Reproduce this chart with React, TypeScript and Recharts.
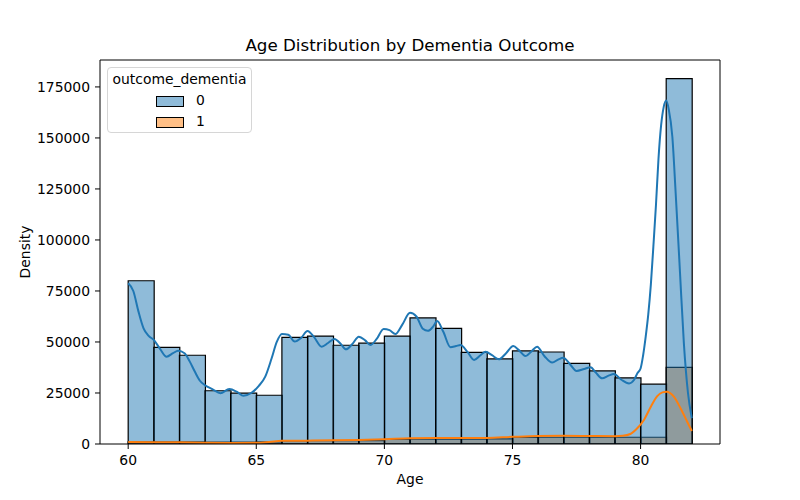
import {
  ComposedChart, Bar, Line, XAxis, YAxis, ReferenceLine,
} from 'recharts'

// histogram bins, one year wide (left edges)
const binStarts = [60, 61, 62, 63, 64, 65, 66, 67, 68, 69, 70, 71, 72, 73, 74, 75, 76, 77, 78, 79, 80, 81]
const countsNoDementia = [
  80000, 47400, 43500, 26100, 24900, 23900, 52300, 52900, 48400, 49400, 52900,
  61800, 56700, 44900, 41700, 45600, 45100, 39500, 35800, 32400, 29300, 179100,
]
const countsDementia = [
  1100, 1000, 1000, 900, 900, 1000, 1500, 1600, 1600, 1700, 2300,
  2400, 2400, 2400, 2500, 3200, 3300, 3300, 3300, 3300, 3300, 37600,
]

// kde curves
const kdeAges0 = [
  60.0, 60.2, 60.4, 60.6, 60.8, 61.0, 61.25, 61.5, 61.75, 61.95, 62.2, 62.4, 62.6, 62.8,
  63.0, 63.3, 63.6, 63.95, 64.25, 64.5, 64.8, 65.1, 65.35, 65.6, 65.8, 66.0, 66.25, 66.5,
  66.75, 67.0, 67.25, 67.55, 67.8, 68.05, 68.3, 68.5, 68.75, 69.0, 69.25, 69.45, 69.7,
  69.97, 70.2, 70.43, 70.7, 71.0, 71.25, 71.5, 71.7, 71.9, 72.06, 72.3, 72.58, 72.8, 72.97,
  73.25, 73.5, 73.75, 73.95, 74.2, 74.47, 74.75, 75.03, 75.25, 75.5, 75.75, 75.96, 76.25,
  76.55, 76.8, 76.98, 77.25, 77.5, 77.8, 78.05, 78.25, 78.5, 78.75, 78.96, 79.25, 79.55,
  79.75, 79.87, 80.0, 80.1, 80.2, 80.3, 80.4, 80.5, 80.6, 80.7, 80.8, 80.9, 81.0, 81.1,
  81.24, 81.37, 81.54, 81.69, 81.85, 82.0,
]
const kdeNoDementia = [
  78800, 75000, 65000, 56700, 53000, 51000, 46500, 42800, 44500, 45700, 44500, 40500, 35500, 31000,
  28800, 26800, 24900, 26900, 25500, 23600, 25000, 28500, 33000, 42000, 50000, 53900, 53500, 50200,
  52000, 55400, 52500, 47700, 49500, 51500, 49000, 46400, 49000, 52600, 50800, 48500, 51500,
  56400, 55800, 53900, 58500, 64300, 62500, 56500, 55500, 57500, 60300, 55000, 47400, 48000, 48500,
  45000, 41200, 43500, 45200, 43500, 41500, 44500, 48000, 46000, 43100, 45500, 47700, 43000,
  39900, 41500, 42300, 39000, 35800, 36800, 37600, 35000, 32200, 33500, 34300, 31500, 29700,
  31500, 34600, 37000, 43500, 52600, 63500, 78000, 97000, 117000, 140000, 156000, 165000, 168300, 164000,
  150600, 122900, 83700, 49300, 25000, 12600,
]
const kdeAges1 = [
  60.0, 61.0, 62.0, 63.0, 64.0, 65.0, 65.5, 66.0, 67.0, 68.0, 69.0, 70.0, 71.0, 72.0, 73.0,
  74.0, 75.0, 76.0, 77.0, 78.0, 79.0, 79.3, 79.6, 79.87, 80.13, 80.4, 80.65, 80.85, 81.02,
  81.15, 81.3, 81.56, 81.82, 82.0,
]
const kdeDementia = [
  1000, 900, 800, 650, 550, 600, 1000, 1550, 1650, 1800, 2000, 2300, 2800, 2900, 2900,
  3000, 3500, 3900, 4000, 3900, 3800, 4000, 4900, 7700, 11800, 18300, 23500, 25300, 25600,
  25000, 23200, 17500, 10900, 6400,
]

const xTicks = [60, 65, 70, 75, 80]
const yTicks = [0, 25000, 50000, 75000, 100000, 125000, 150000, 175000]
const X_MIN = 58.9
const X_MAX = 83.1
const Y_MAX = 188200

const BLUE = '#1f77b4'
const ORANGE = '#ff7f0e'
const FONT = '"DejaVu Sans", sans-serif'

const histRows = binStarts.map((b, i) => ({
  mid: b + 0.5,
  healthy: countsNoDementia[i],
  dementia: countsDementia[i],
}))
const kdeRows0 = kdeAges0.map((a, i) => ({ age: a, v: kdeNoDementia[i] }))
const kdeRows1 = kdeAges1.map((a, i) => ({ age: a, v: kdeDementia[i] }))

const tickStyle = { fontSize: 13.9, fill: '#000', fontFamily: FONT }

function LegendBox() {
  const entry = (color: string, label: string, top: number) => (
    <div style={{ position: 'absolute', left: 0, top, width: '100%', height: 12 }}>
      <div style={{
        position: 'absolute', left: 48, top: 0, width: 26, height: 9,
        background: color, border: '1px solid #000',
      }} />
      <span style={{ position: 'absolute', left: 88, top: -4, fontSize: 13.9 }}>{label}</span>
    </div>
  )
  return (
    <div style={{
      position: 'absolute', left: 107, top: 67, width: 145, height: 66,
      border: '1px solid #d6d6d6', borderRadius: 4, background: 'rgba(255,255,255,0.8)',
      fontFamily: FONT, color: '#000', boxSizing: 'border-box',
    }}>
      <div style={{ position: 'absolute', left: 0, top: 3, width: '100%', textAlign: 'center', fontSize: 13.9 }}>
        outcome_dementia
      </div>
      {entry('rgba(31,119,180,0.5)', '0', 28)}
      {entry('rgba(255,127,14,0.5)', '1', 49)}
    </div>
  )
}

export default function App() {
  return (
    <div style={{ position: 'absolute', left: 0, top: 0, width: 800, height: 500, background: '#fff', fontFamily: FONT }}>
      <ComposedChart
        width={800}
        height={500}
        data={histRows}
        margin={{ top: 60, right: 80, bottom: 26, left: 20 }}
        barCategoryGap={0}
        barGap={0}
      >
        <XAxis
          xAxisId="age" dataKey="mid" type="number" domain={[X_MIN, X_MAX]} ticks={xTicks}
          allowDataOverflow height={30} tick={tickStyle} tickSize={5} tickMargin={6}
          axisLine={{ stroke: '#000' }} tickLine={{ stroke: '#000' }}
        />
        <XAxis xAxisId="age1" dataKey="mid" type="number" domain={[X_MIN, X_MAX]} allowDataOverflow hide />
        <XAxis xAxisId="kde" dataKey="age" type="number" domain={[X_MIN, X_MAX]} allowDataOverflow hide />
        <YAxis
          type="number" domain={[0, Y_MAX]} ticks={yTicks} allowDataOverflow width={80}
          tick={tickStyle} tickSize={5} tickMargin={5}
          axisLine={{ stroke: '#000' }} tickLine={{ stroke: '#000' }}
        />
        <Bar
          xAxisId="age1" dataKey="dementia" fill={ORANGE} fillOpacity={0.5}
          stroke="#000" strokeWidth={1.2} isAnimationActive={false}
        />
        <Bar
          xAxisId="age" dataKey="healthy" fill={BLUE} fillOpacity={0.5}
          stroke="#000" strokeWidth={1.2} isAnimationActive={false}
        />
        <Line
          xAxisId="kde" data={kdeRows0} dataKey="v" type="monotone" stroke={BLUE}
          strokeWidth={2} dot={false} activeDot={false} isAnimationActive={false}
        />
        <Line
          xAxisId="kde" data={kdeRows1} dataKey="v" type="monotone" stroke={ORANGE}
          strokeWidth={2} dot={false} activeDot={false} isAnimationActive={false}
        />
        <ReferenceLine xAxisId="age" y={Y_MAX} stroke="#000" />
        <ReferenceLine xAxisId="age" x={X_MAX} stroke="#000" />
      </ComposedChart>

      <div style={{ position: 'absolute', left: 0, top: 35, width: 820, textAlign: 'center', fontSize: 16.7 }}>
        Age Distribution by Dementia Outcome
      </div>
      <div style={{ position: 'absolute', left: 0, top: 471, width: 820, textAlign: 'center', fontSize: 13.9 }}>
        Age
      </div>
      <div style={{
        position: 'absolute', left: 25, top: 252, fontSize: 13.9,
        transform: 'translate(-50%, -50%) rotate(-90deg)', whiteSpace: 'nowrap',
      }}>
        Density
      </div>
      <LegendBox />
    </div>
  )
}
